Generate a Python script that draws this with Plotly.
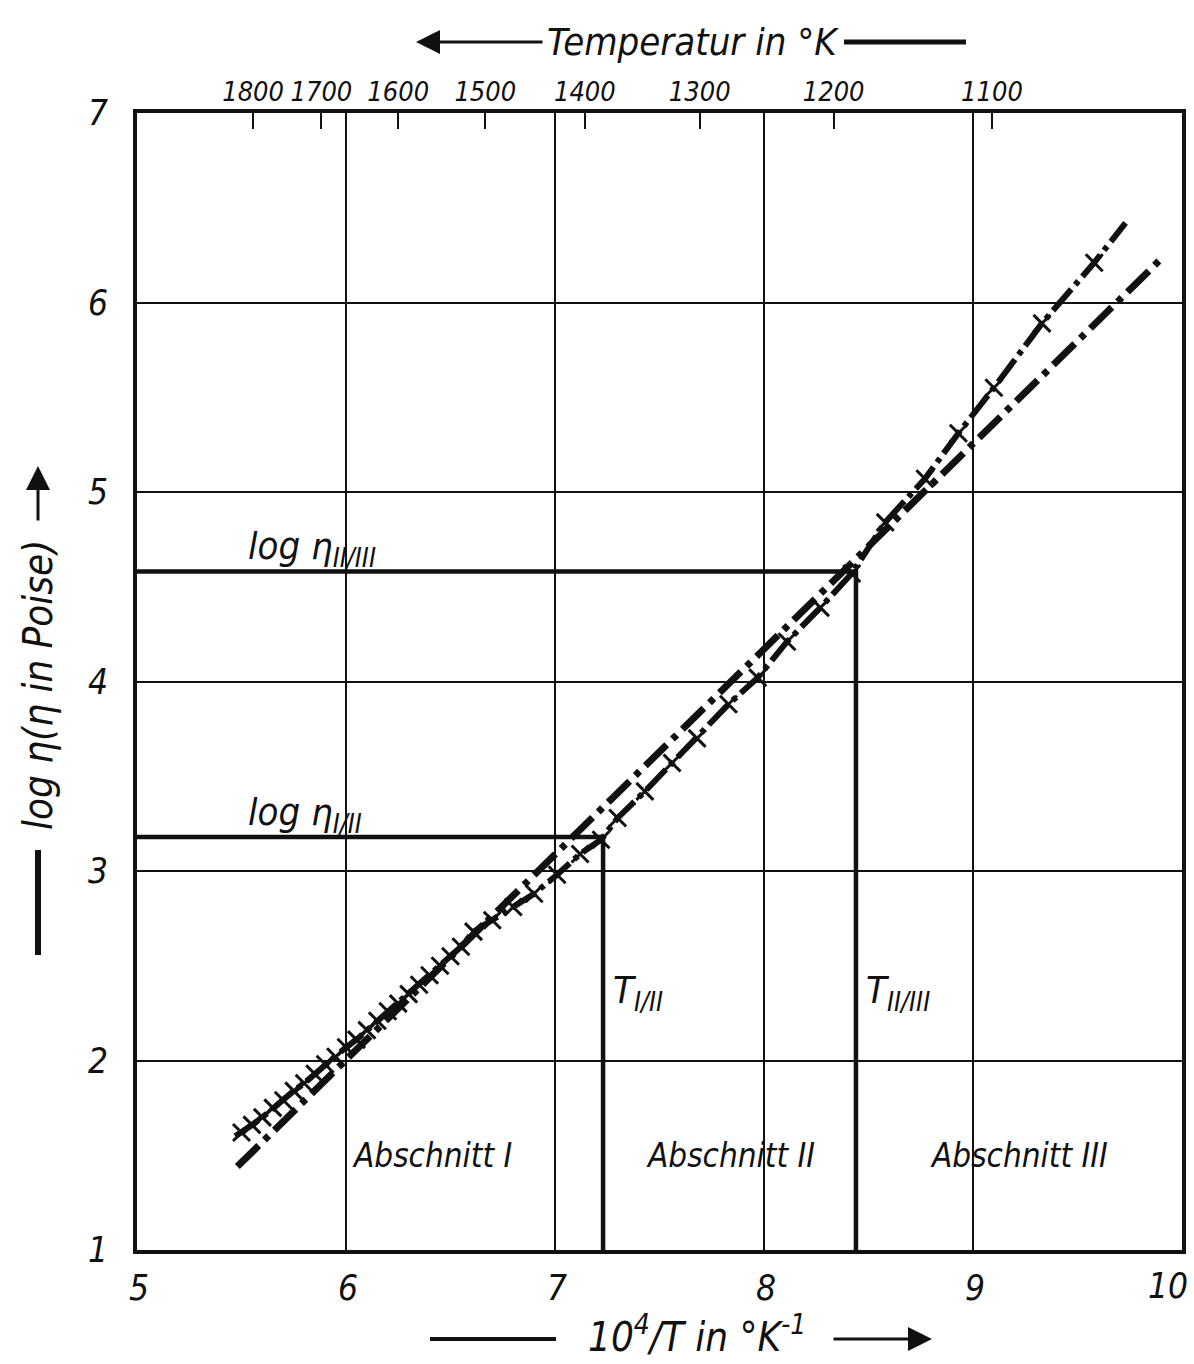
import plotly.graph_objects as go

# ---------------- data ----------------
x_ticks = [5, 6, 7, 8, 9, 10]
x_ticklabels = ["5", "6", "7", "8", "9", "10"]
y_ticks = [1, 2, 3, 4, 5, 6, 7]
y_ticklabels = ["1", "2", "3", "4", "5", "6", "7"]
temp_ticks = [1800, 1700, 1600, 1500, 1400, 1300, 1200, 1100]

# measured points (crosses): 10^4/T and log eta
pts_x = [5.50, 5.55, 5.60, 5.65, 5.70, 5.75, 5.80, 5.85, 5.90, 5.95, 6.00,
         6.05, 6.10, 6.15, 6.20, 6.25, 6.30, 6.35, 6.40, 6.45, 6.50, 6.55,
         6.61, 6.70, 6.80, 6.90, 7.01, 7.12, 7.22, 7.30, 7.43, 7.56, 7.68,
         7.83, 7.97, 8.11, 8.27, 8.42, 8.58, 8.77, 8.93, 9.10, 9.33, 9.58]
pts_y = [1.62, 1.66, 1.70, 1.75, 1.79, 1.84, 1.88, 1.93, 1.98, 2.02, 2.07,
         2.11, 2.16, 2.21, 2.26, 2.30, 2.35, 2.40, 2.45, 2.50, 2.55, 2.60,
         2.68, 2.74, 2.81, 2.88, 2.98, 3.09, 3.165, 3.28, 3.42, 3.57, 3.70,
         3.88, 4.02, 4.21, 4.39, 4.57, 4.84, 5.07, 5.31, 5.55, 5.89, 6.21]
# ends of the drawn curve through the crosses
curve_start = (5.47, 1.60)
curve_end = (9.73, 6.42)

# straight dash-dot line
fit_x = [5.48, 9.90]
fit_y = [1.44, 6.23]

# section boundaries
T_I_II = 7.23
logeta_I_II = 3.18
T_II_III = 8.44
logeta_II_III = 4.58

# section labels
section_names = ["Abschnitt I", "Abschnitt II", "Abschnitt III"]
section_x = [6.41, 7.84, 9.22]
section_y = 1.50

# ---------------- figure ----------------
FONT = "DejaVu Sans Condensed, Liberation Sans Narrow, DejaVu Sans, sans-serif"
BLACK = "#111111"

fig = go.Figure()

# boundary lines
fig.add_trace(go.Scatter(x=[5, T_I_II, T_I_II], y=[logeta_I_II, logeta_I_II, 1],
                         mode="lines", line=dict(color=BLACK, width=4.5),
                         hoverinfo="skip", showlegend=False))
fig.add_trace(go.Scatter(x=[5, T_II_III, T_II_III], y=[logeta_II_III, logeta_II_III, 1],
                         mode="lines", line=dict(color=BLACK, width=4.5),
                         hoverinfo="skip", showlegend=False))

# dash-dot straight line
fig.add_trace(go.Scatter(x=fit_x, y=fit_y, mode="lines",
                         line=dict(color=BLACK, width=7, dash="30px,8px,6px,8px"),
                         hoverinfo="skip", showlegend=False))

# curve through crosses
curve_x = [curve_start[0]] + pts_x + [curve_end[0]]
curve_y = [curve_start[1]] + pts_y + [curve_end[1]]
fig.add_trace(go.Scatter(x=curve_x, y=curve_y, mode="lines",
                         line=dict(color=BLACK, width=6, dash="28px,6px,5px,6px"),
                         hoverinfo="skip", showlegend=False))
fig.add_trace(go.Scatter(x=pts_x, y=pts_y, mode="markers",
                         marker=dict(symbol="x-thin", size=17,
                                     line=dict(color=BLACK, width=3)),
                         showlegend=False))

# invisible trace on the top temperature axis
temp_pos = [1e4 / t for t in temp_ticks]
fig.add_trace(go.Scatter(x=temp_pos, y=[1] * len(temp_pos), xaxis="x2",
                         mode="markers", marker=dict(opacity=0),
                         hoverinfo="skip", showlegend=False))

# the last bottom label ("10") is drawn as an annotation so it stays inside the page
bottom_ticktext = x_ticklabels[:-1] + [""]

fig.update_layout(
    width=1194, height=1364,
    margin=dict(l=137, r=12, t=113, b=114, autoexpand=False),
    paper_bgcolor="white", plot_bgcolor="white",
    font=dict(family=FONT, color=BLACK),
    xaxis=dict(range=[5, 10], tickvals=x_ticks, ticktext=bottom_ticktext,
               showgrid=True, gridcolor=BLACK, gridwidth=1.6,
               showline=True, linecolor=BLACK, linewidth=4, mirror=True,
               ticks="", zeroline=False, ticklabelstandoff=4,
               automargin=False,
               ticklabeloverflow="allow", ticklabelshift=2,
               tickfont=dict(size=35, style="italic", family=FONT)),
    yaxis=dict(range=[1, 7], tickvals=y_ticks, ticktext=y_ticklabels,
               showgrid=True, gridcolor=BLACK, gridwidth=1.6,
               showline=True, linecolor=BLACK, linewidth=4, mirror=True,
               ticks="", zeroline=False, ticklabelstandoff=18,
               automargin=False, ticklabeloverflow="allow",
               tickfont=dict(size=35, style="italic", family=FONT)),
    xaxis2=dict(range=[5, 10], overlaying="x", side="top",
                tickvals=temp_pos, ticktext=[str(t) for t in temp_ticks],
                ticks="inside", ticklen=16, tickwidth=2, tickcolor=BLACK,
                showgrid=False, showline=False, zeroline=False,
                automargin=False,
                ticklabelstandoff=6, ticklabeloverflow="allow",
                tickfont=dict(size=27, style="italic", family=FONT)),
)


def px(xp):
    return (xp - 137) / 1045


def py(yp):
    return (1250 - yp) / 1137


ann = []
# "10" label at the right end of the bottom axis
ann.append(dict(x=x_ticks[-1], y=0, xref="x", yref="paper", text=f"<i>{x_ticklabels[-1]}</i>",
                xanchor="right", yanchor="top", xshift=8, yshift=-14,
                showarrow=False, font=dict(size=35)))
# section labels
for name, sx in zip(section_names, section_x):
    ann.append(dict(x=sx, y=section_y, xref="x", yref="y", text=f"<i>{name}</i>",
                    xanchor="center", yanchor="middle",
                    showarrow=False, font=dict(size=33)))
# T labels
ann.append(dict(x=T_I_II + 0.04, y=2.36, xref="x", yref="y", xanchor="left",
                yanchor="middle",
                text="<i>T<sub>I/II</sub></i>", showarrow=False, font=dict(size=38)))
ann.append(dict(x=T_II_III + 0.04, y=2.36, xref="x", yref="y", xanchor="left",
                yanchor="middle",
                text="<i>T<sub>II/III</sub></i>", showarrow=False, font=dict(size=38)))
# log eta labels
ann.append(dict(x=5.52, y=logeta_I_II - 0.02, xref="x", yref="y", xanchor="left",
                yanchor="bottom", text="<i>log η<sub>I/II</sub></i>",
                showarrow=False, font=dict(size=38)))
ann.append(dict(x=5.52, y=logeta_II_III - 0.02, xref="x", yref="y", xanchor="left",
                yanchor="bottom", text="<i>log η<sub>II/III</sub></i>",
                showarrow=False, font=dict(size=38)))

# bottom title
ann.append(dict(x=px(697), y=py(1334), xref="paper", yref="paper",
                xanchor="center", yanchor="middle",
                text="<i>10<sup>4</sup>/T in °K<sup>-1</sup></i>",
                showarrow=False, font=dict(size=40)))
ann.append(dict(x=px(932), y=py(1339), xref="paper", yref="paper", text="",
                showarrow=True, ax=-100, ay=0, arrowhead=2, arrowsize=1.6,
                arrowwidth=3, arrowcolor=BLACK))
# top title
ann.append(dict(x=px(693), y=py(42), xref="paper", yref="paper",
                xanchor="center", yanchor="middle",
                text="<i>Temperatur in °K</i>", showarrow=False, font=dict(size=38)))
ann.append(dict(x=px(416), y=py(42), xref="paper", yref="paper", text="",
                showarrow=True, ax=128, ay=0, arrowhead=2, arrowsize=1.6,
                arrowwidth=3, arrowcolor=BLACK))
# left title
ann.append(dict(x=px(38), y=py(685), xref="paper", yref="paper",
                xanchor="center", yanchor="middle",
                text="<i>log η(η in Poise)</i>", textangle=-90,
                showarrow=False, font=dict(size=40)))
ann.append(dict(x=px(38), y=py(466), xref="paper", yref="paper", text="",
                showarrow=True, ax=0, ay=56, arrowhead=2, arrowsize=1.6,
                arrowwidth=3, arrowcolor=BLACK))
fig.update_layout(annotations=ann)

shapes = [
    dict(type="line", xref="paper", yref="paper", x0=px(430), x1=px(556),
         y0=py(1339), y1=py(1339), line=dict(color=BLACK, width=4)),
    dict(type="line", xref="paper", yref="paper", x0=px(844), x1=px(966),
         y0=py(42), y1=py(42), line=dict(color=BLACK, width=5)),
    dict(type="line", xref="paper", yref="paper", x0=px(38), x1=px(38),
         y0=py(850), y1=py(955), line=dict(color=BLACK, width=6)),
]
fig.update_layout(shapes=shapes)

fig.write_html("out.html")
